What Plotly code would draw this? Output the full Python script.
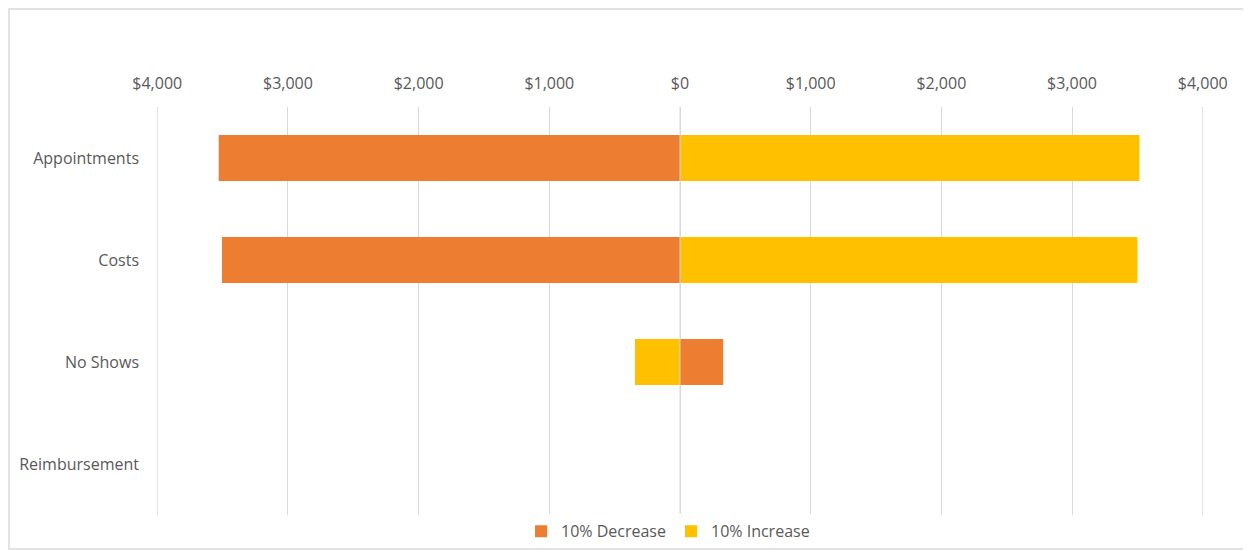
import plotly.graph_objects as go

categories = ["Appointments", "Costs", "No Shows", "Reimbursement"]
decrease_10 = [-3530, -3505, 330, 0]
increase_10 = [3515, 3500, -345, 0]
tick_vals = [-4000, -3000, -2000, -1000, 0, 1000, 2000, 3000, 4000]
tick_text = ["$4,000", "$3,000", "$2,000", "$1,000", "$0", "$1,000", "$2,000", "$3,000", "$4,000"]

FONT = "Open Sans"
FS = 16
TXT = "#595959"
GRID = "#d9d9d9"

fig = go.Figure()
fig.add_trace(go.Bar(y=categories, x=decrease_10, orientation="h", name="10% Decrease",
                     marker=dict(color="#ED7D31", line=dict(width=0)), width=0.45))
fig.add_trace(go.Bar(y=categories, x=increase_10, orientation="h", name="10% Increase",
                     marker=dict(color="#FFC000", line=dict(width=0)), width=0.45))

edge_lines = [
    dict(type="line", xref="x", yref="paper", x0=v, x1=v, y0=0, y1=1,
         line=dict(color=GRID, width=1), layer="below")
    for v in (tick_vals[0], tick_vals[-1])
]

fig.update_layout(
    width=1243, height=542,
    barmode="relative",
    paper_bgcolor="white", plot_bgcolor="white",
    margin=dict(l=149, r=48, t=99, b=35, autoexpand=False),
    font=dict(family=FONT, size=FS, color=TXT),
    showlegend=True,
    legend=dict(orientation="h", x=0.348, xanchor="left", y=-0.04, yanchor="middle",
                font=dict(family=FONT, size=FS, color=TXT), traceorder="normal",
                itemwidth=30, tracegroupgap=0),
    xaxis=dict(side="top", range=[-4002, 4002], tickvals=tick_vals, ticktext=tick_text,
               showgrid=True, gridcolor=GRID, gridwidth=1, zeroline=False,
               showline=False, ticks="", ticklabelstandoff=14, automargin=False,
               tickfont=dict(family=FONT, size=FS, color=TXT)),
    yaxis=dict(autorange="reversed", showgrid=False, zeroline=False, showline=False,
               ticks="", ticklabelstandoff=17, automargin=False,
               tickfont=dict(family=FONT, size=FS, color=TXT)),
    shapes=[
        dict(type="rect", xref="paper", yref="paper", x0=-0.1415, x1=1.1, y0=-0.0833, y1=1.2402,
             line=dict(color=GRID, width=1.5), fillcolor="rgba(0,0,0,0)", layer="below"),
        dict(type="line", xref="x", yref="paper", x0=0, x1=0, y0=0, y1=1,
             line=dict(color=GRID, width=1), layer="above"),
    ] + edge_lines,
)

fig.write_html("out.html")
